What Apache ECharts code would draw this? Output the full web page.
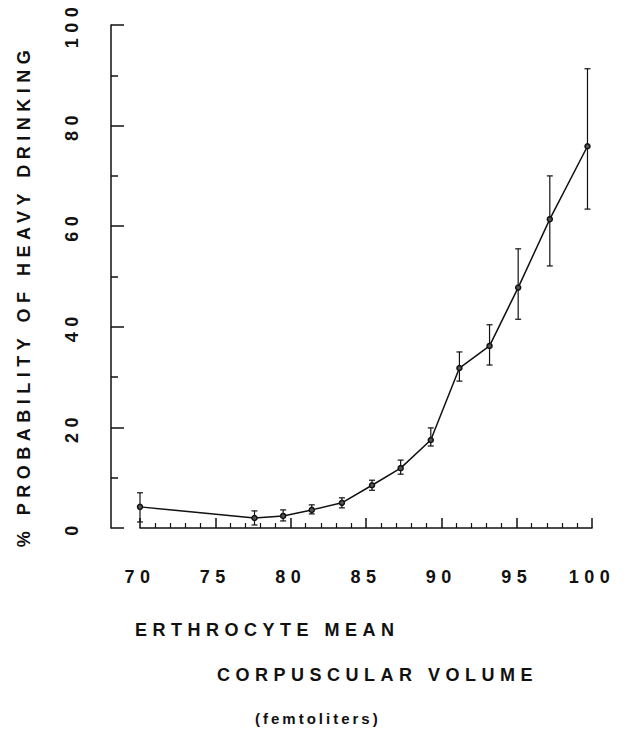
<!DOCTYPE html>
<html>
<head>
    <meta charset="utf-8">
    <script src="https://cdn.jsdelivr.net/npm/echarts@6/dist/echarts.min.js"></script>
    <style>
        body { margin: 0; background: #fff; }
        /* the old typewriter-ish lettering is widely spaced */
        #main text { letter-spacing: 5.5px; }
        #main text[style*="15px"] { letter-spacing: 3px; }
    </style>
</head>

<body>
    <div id="main" style="width: 634px;height:730px;"></div>
    <script type="text/javascript">
        // mean corpuscular volume (fl) and % probability, with error bar ends
        var mcv   = [70, 77.6, 79.5, 81.4, 83.4, 85.4, 87.3, 89.3, 91.2, 93.2, 95.1, 97.2, 99.7];
        var prob  = [4.2, 2.0, 2.4, 3.6, 5.0, 8.5, 11.9, 17.5, 31.8, 36.2, 47.8, 61.4, 75.9];
        var upper = [7.0, 3.4, 3.6, 4.6, 6.0, 9.5, 13.5, 19.9, 35.0, 40.4, 55.5, 70.0, 91.3];
        var lower = [1.2, 0.6, 1.4, 2.8, 4.0, 7.5, 10.7, 16.3, 29.2, 32.4, 41.5, 52.1, 63.4];

        var ink = '#111';
        var fontFam = '"Liberation Sans", Arial, sans-serif';

        var lineData = mcv.map(function (x, i) { return [x, prob[i]]; });
        var barData = mcv.map(function (x, i) { return [x, upper[i], lower[i]]; });

        var myChart = echarts.init(document.getElementById('main'), null, { renderer: 'svg' });

        myChart.setOption({
            backgroundColor: '#fff',
            animation: false,
            grid: { left: 140, right: 42, top: 25, bottom: 202 },
            xAxis: {
                type: 'value',
                min: 70, max: 100, interval: 5,
                offset: 23,
                splitLine: { show: false },
                axisLine: { lineStyle: { color: ink, width: 1.5 } },
                axisTick: { inside: true, length: 10, lineStyle: { color: ink, width: 1.5 } },
                minorTick: { show: true, splitNumber: 5, length: 5, lineStyle: { color: ink, width: 1.2 } },
                axisLabel: { color: ink, fontSize: 18, fontWeight: 'bold', fontFamily: fontFam, margin: 17 }
            },
            yAxis: {
                type: 'value',
                min: 0, max: 100, interval: 20,
                offset: 29,
                splitLine: { show: false },
                axisLine: { show: true, lineStyle: { color: ink, width: 1.5 } },
                axisTick: { show: true, inside: true, length: 13, lineStyle: { color: ink, width: 1.5 } },
                minorTick: { show: true, splitNumber: 2, length: 7, lineStyle: { color: ink, width: 1.5 } },
                axisLabel: { color: ink, fontSize: 18, fontWeight: 'bold', fontFamily: fontFam, rotate: 90, margin: 30 }
            },
            graphic: [
                // y axis title, reads bottom to top
                { type: 'text', x: 24, y: 296, rotation: Math.PI / 2,
                  style: { text: '% PROBABILITY OF HEAVY DRINKING', fill: ink, font: 'bold 18px ' + fontFam, textAlign: 'center', textVerticalAlign: 'middle' } },
                { type: 'text', x: 135, y: 630, style: { text: 'ERTHROCYTE MEAN', fill: ink, font: 'bold 18px ' + fontFam, textVerticalAlign: 'middle' } },
                { type: 'text', x: 217, y: 675, style: { text: 'CORPUSCULAR VOLUME', fill: ink, font: 'bold 18px ' + fontFam, textVerticalAlign: 'middle' } },
                { type: 'text', x: 255, y: 718, style: { text: '(femtoliters)', fill: ink, font: 'bold 15px ' + fontFam, textVerticalAlign: 'middle' } }
            ],
            series: [
                {
                    type: 'custom',
                    data: barData,
                    encode: { x: 0, y: [1, 2] },
                    renderItem: function (params, api) {
                        var top = api.coord([api.value(0), api.value(1)]);
                        var bot = api.coord([api.value(0), api.value(2)]);
                        var w = 3;
                        var st = { stroke: ink, lineWidth: 1.2 };
                        return {
                            type: 'group',
                            children: [
                                { type: 'line', shape: { x1: top[0], y1: top[1], x2: bot[0], y2: bot[1] }, style: st },
                                { type: 'line', shape: { x1: top[0] - w, y1: top[1], x2: top[0] + w, y2: top[1] }, style: st },
                                { type: 'line', shape: { x1: bot[0] - w, y1: bot[1], x2: bot[0] + w, y2: bot[1] }, style: st }
                            ]
                        };
                    }
                },
                {
                    type: 'line',
                    data: lineData,
                    symbol: 'circle',
                    symbolSize: 5,
                    itemStyle: { color: '#555', borderColor: ink, borderWidth: 1.5 },
                    lineStyle: { color: ink, width: 1.5 }
                }
            ]
        });
    </script>
</body>

</html>
